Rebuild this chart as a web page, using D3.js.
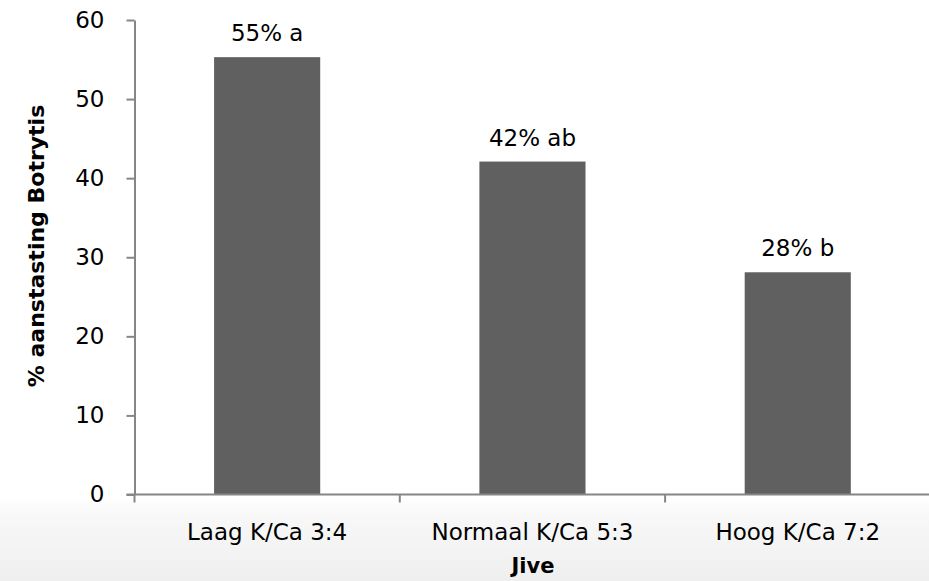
<!DOCTYPE html>
<html>
<head>
<meta charset="utf-8">
<script src="https://cdn.jsdelivr.net/npm/d3@7"></script>
<style>
  html, body { margin: 0; padding: 0; background: #ffffff; }
  svg { display: block; }
  text { font-family: "Century Gothic", "DejaVu Sans", sans-serif; fill: #000; }
</style>
</head>
<body>
<svg id="chart" width="929" height="581"></svg>
<script>
const categories = ["Laag K/Ca 3:4", "Normaal K/Ca 5:3", "Hoog K/Ca 7:2"];
const values = [55.3, 42.1, 28.1];
const barLabels = ["55% a", "42% ab", "28% b"];
const yTicks = [0, 10, 20, 30, 40, 50, 60];
const yTitle = "% aanstasting Botrytis";
const xTitle = "Jive";

const W = 929, H = 581;
const svg = d3.select("#chart");

// faint background gradient at the bottom
const defs = svg.append("defs");
const grad = defs.append("linearGradient").attr("id", "bg").attr("x1", 0).attr("y1", 0).attr("x2", 0).attr("y2", 1);
grad.append("stop").attr("offset", "0%").attr("stop-color", "#ffffff");
grad.append("stop").attr("offset", "20%").attr("stop-color", "#f8f8f8");
grad.append("stop").attr("offset", "100%").attr("stop-color", "#efefef");
svg.append("rect").attr("x", 0).attr("y", 497).attr("width", W).attr("height", H - 497).attr("fill", "url(#bg)");

const x0 = 134.5, step = 265.3;
const x = d3.scaleBand().domain(categories).range([x0, x0 + step * categories.length])
  .paddingInner(0.6).paddingOuter(0.3);
const y = d3.scaleLinear().domain([0, 60]).range([494.5, 20]);

const axisColor = "#868686";
const fs = 23;

// bars
svg.append("g").selectAll("rect").data(values).join("rect")
  .attr("x", (d, i) => x(categories[i]))
  .attr("y", d => y(d))
  .attr("width", x.bandwidth())
  .attr("height", d => y(0) - y(d))
  .attr("fill", "#606060");

// bar labels
svg.append("g").selectAll("text").data(values).join("text")
  .attr("x", (d, i) => x(categories[i]) + x.bandwidth() / 2)
  .attr("y", d => y(d) - 16)
  .attr("text-anchor", "middle")
  .attr("font-size", fs)
  .text((d, i) => barLabels[i]);

// y axis
const yAxis = d3.axisLeft(y).tickValues(yTicks).tickSize(8).tickPadding(22).tickSizeOuter(0);
const gy = svg.append("g").attr("transform", `translate(${x0},0)`).call(yAxis);
gy.select(".domain").attr("stroke", axisColor).attr("stroke-width", 2);
gy.selectAll(".tick line").attr("stroke", axisColor).attr("stroke-width", 2);
gy.selectAll(".tick text").attr("font-size", fs).attr("font-family", "'Century Gothic','DejaVu Sans',sans-serif").attr("fill", "#000");

// x axis
const gx = svg.append("g").attr("transform", `translate(0,${y(0)})`);
gx.append("line").attr("x1", x0 - 8).attr("x2", W + 10).attr("y1", 0).attr("y2", 0)
  .attr("stroke", axisColor).attr("stroke-width", 2);
const bounds = d3.range(categories.length + 1).map(i => x0 + i * x.step());
gx.selectAll("line.tk").data(bounds).join("line").attr("class", "tk")
  .attr("x1", d => d).attr("x2", d => d).attr("y1", 0).attr("y2", 8)
  .attr("stroke", axisColor).attr("stroke-width", 2);
gx.selectAll("text").data(categories).join("text")
  .attr("x", d => x(d) + x.bandwidth() / 2)
  .attr("y", 45)
  .attr("text-anchor", "middle")
  .attr("font-size", fs)
  .text(d => d);

// axis titles
svg.append("text")
  .attr("transform", "translate(44,246) rotate(-90)")
  .attr("text-anchor", "middle")
  .attr("font-size", 22)
  .attr("font-weight", "bold")
  .text(yTitle);

svg.append("text")
  .attr("x", 533).attr("y", 573)
  .attr("text-anchor", "middle")
  .attr("font-size", 21)
  .attr("font-weight", "bold")
  .text(xTitle);
</script>
</body>
</html>
